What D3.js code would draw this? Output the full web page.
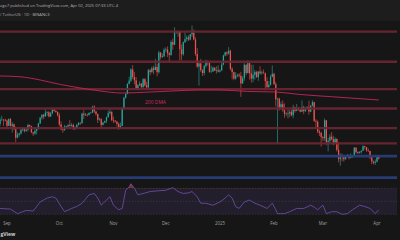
<!DOCTYPE html>
<html><head><meta charset="utf-8">
<script src="https://cdn.jsdelivr.net/npm/d3@7"></script>
<style>
html,body{margin:0;padding:0;background:#161616;overflow:hidden}
svg{display:block}
text{font-family:"Open Sans",Roboto,sans-serif}
</style>
</head><body>
<svg id="c" width="400" height="240"></svg>
<script>
// ---- Data (ETH / TetherUS, 1D) ----
const startDate = "2024-08-28";
const firstOpen = 2457;
const closes = [2528,2528,2526,2513,
2425,2538,2423,2450,2368,2225,2273,2296,2360,2388,2340,2361,2439,2418,2316,2295,2340,2372,2465,2560,2612,2581,2646,2653,2581,2633,2696,2676,2658,2602,
2447,2364,2349,2414,2414,2440,2423,2440,2370,2386,2438,2475,2468,2628,2607,2611,2605,2642,2648,2747,2667,2621,2525,2536,2440,2480,2507,2570,2637,2660,2520,
2513,2497,2457,2398,2422,2721,2895,2962,3128,3183,3371,3244,3187,3059,3107,3132,3076,3207,3105,3070,3357,3327,3392,3361,3413,3325,3656,3579,3592,3700,
3705,3641,3614,3833,3785,4004,3996,4005,3709,3626,3829,3880,3908,3872,3960,3986,3873,3630,3418,3472,3361,3311,3427,3492,3484,3330,3337,3399,3349,3358,3333,
3353,3453,3605,3657,3636,3686,3380,3326,3218,3267,3282,3265,3136,3225,3449,3311,3475,3306,3216,3280,3327,3242,3337,3306,3319,3307,3176,3076,3112,3247,3298,
3124,2870,2880,2731,2787,2686,2624,2631,2629,2659,2602,2737,2676,2727,2693,2662,2743,2670,2717,2741,2662,2763,2820,2508,2493,2330,2307,2237,
2217,2518,2150,2172,2241,2201,2140,2203,2020,1865,1923,1908,1863,1911,1936,1886,1928,1933,2058,1983,1967,1983,2007,2081,2067,2011,2002,1895,1826,1804,1822,
1906,1873];
const highs = [2560,2595,2535,2545,
2530,2550,2555,2490,2465,2410,2315,2310,2378,2395,2390,2385,2460,2445,2425,2320,2390,2375,2475,2575,2615,2620,2700,2670,2672,2660,2725,2705,2685,2665,
2640,2500,2400,2440,2425,2450,2520,2470,2460,2415,2460,2485,2485,2645,2685,2640,2630,2650,2660,2760,2770,2670,2630,2560,2555,2490,2510,2580,2680,2720,2670,
2580,2520,2500,2480,2480,2730,2915,2965,3140,3250,3395,3445,3330,3245,3125,3175,3145,3225,3225,3165,3380,3380,3420,3435,3550,3465,3685,3660,3640,3735,
3740,3760,3665,3860,3890,4080,4020,4010,4010,3790,3840,3995,3940,3945,3965,4109,4040,3910,3730,3500,3550,3375,3450,3535,3520,3490,3435,3420,3410,3425,3440,
3375,3495,3620,3670,3675,3745,3700,3410,3335,3325,3300,3310,3330,3260,3475,3455,3525,3480,3450,3450,3360,3350,3340,3425,3350,3370,3320,3240,3175,3280,3437,
3315,3160,2890,2900,2830,2850,2800,2650,2700,2690,2700,2780,2745,2790,2735,2720,2850,2760,2730,2755,2845,2775,2855,2830,2535,2515,2360,2325,
2250,2550,2520,2220,2285,2320,2260,2230,2215,2150,1960,1960,1925,1930,1950,1940,1960,1935,2070,2065,1995,2000,2010,2100,2090,2070,2045,2005,1900,1840,1860,
1920,1920];
const lows = [2420,2510,2425,2500,
2400,2420,2410,2310,2355,2150,2215,2240,2275,2330,2310,2320,2330,2405,2300,2255,2275,2280,2365,2455,2530,2535,2585,2590,2565,2575,2620,2660,2640,2580,
2420,2350,2310,2345,2400,2400,2410,2410,2355,2355,2380,2430,2440,2460,2540,2590,2580,2600,2630,2635,2640,2595,2470,2510,2395,2430,2465,2470,2560,2610,2500,
2470,2480,2410,2357,2375,2420,2700,2880,2955,3120,3160,3210,3120,3035,3020,3090,3045,3050,3080,3035,3045,3270,3310,3290,3355,3255,3300,3540,3565,3575,
3660,3580,3500,3600,3700,3780,3970,3920,3520,3530,3600,3815,3840,3850,3860,3915,3860,3600,3400,3100,3330,3260,3270,3400,3440,3315,3315,3330,3345,3300,3320,
3320,3350,3440,3590,3600,3620,3355,3205,3190,3200,3240,3235,2910,3130,3180,3270,3300,3200,3150,3155,3200,3230,3180,3280,3285,3300,3020,3060,3060,3100,3240,
3110,2750,2125,2680,2700,2660,2560,2590,2550,2570,2585,2550,2645,2670,2680,2650,2660,2620,2660,2700,2610,2655,2750,2490,2385,2300,2255,2075,
2170,2170,2100,1995,2140,2180,2100,2130,1990,1810,1754,1830,1825,1860,1900,1860,1880,1885,1925,1960,1950,1960,1960,2000,2030,1990,1985,1865,1780,1776,1770,
1810,1860];

// 200-day moving average (read at sample dates)
const dmaDates = ["2024-08-28","2024-09-08","2024-09-20","2024-10-01","2024-10-12","2024-10-24","2024-11-06","2024-11-22","2024-12-05","2024-12-20","2025-01-01","2025-01-17","2025-02-02","2025-02-15","2025-03-06","2025-04-02"];
const dmaValues = [3261,3249,3194,3122,3065,3011,2975,2992,3009,3026,3026,3001,2992,2953,2913,2858];

// RSI(14): sample day offsets from 2024-09-01 and values
const rsiDays = [-4,2,6,11,15,19,23,26,28,31,33,37,40,43,47,50,52,54,57,59,61,64,66,68,70,71,73,75,78,82,86,91,95,98,101,104,106,109,111,114,118,122,125,127,129,131,133,136,139,142,145,149,152,154,155,159,162,166,170,174,176,178,181,183,186,189,192,195,198,202,205,208,211,213];
const rsiValues = [39,38,31,36,35,49,55,57,55,42,34,39,42,47,60,62,55,44,52,57,44,37,39,67,72,77,70,60,62,65,66,67,71,65,62,63,65,57,47,47,44,49,55,60,55,42,39,49,52,47,44,39,47,37,31,31,34,39,39,44,41,37,44,31,34,34,30,31,37,44,42,39,31,37];

// Horizontal levels
const resistanceLevels = [4005,3500,3040,2715,2385,2130];
const supportLevels = [1915,1555];

// Time axis
const monthTicks = ["2024-09-01","2024-10-01","2024-11-01","2024-12-01","2025-01-01","2025-02-01","2025-03-01","2025-04-01"];
const monthLabels = ["Sep","Oct","Nov","Dec","2025","Feb","Mar","Apr"];

const headerLine1 = "ago7 published on TradingView.com, Apr 02, 2025 07:33 UTC-4";
const headerLine2 = "/ TetherUS · 1D · BINANCE";
const logoText = "gView";

// ---- Build ----
const parse = d3.utcParse("%Y-%m-%d");
const start = parse(startDate);
const candles = closes.map((c, i) => {
  const o = i === 0 ? firstOpen : closes[i - 1];
  return {date: d3.utcDay.offset(start, i), o, c,
          h: Math.max(highs[i], o, c), l: Math.min(lows[i], o, c)};
});

const svg = d3.select("#c");
const W = 400, H = 240;

const x = d3.scaleUtc().domain([parse("2024-09-01"), parse("2025-04-01")]).range([7, 377]);
const y = d3.scaleLinear().domain([1750, 4100]).range([166, 26]);
const yr = d3.scaleLinear().domain([30, 70]).range([214.3, 188.3]);

// backgrounds
svg.append("rect").attr("width", W).attr("height", H).attr("fill", "#161616");
svg.append("rect").attr("width", W).attr("height", 21).attr("fill", "#1d1d1d");

// header
svg.append("text").attr("x", 0).attr("y", 6.6).attr("font-size", 3.9).attr("fill", "#b4b4b4")
  .attr("textLength", 118).attr("lengthAdjust", "spacingAndGlyphs").text(headerLine1);
svg.append("text").attr("x", 0).attr("y", 15.8).attr("font-size", 3.9).attr("fill", "#b4b4b4")
  .attr("textLength", 50).attr("lengthAdjust", "spacingAndGlyphs").text(headerLine2);

// candles
const step = x(parse("2024-09-02")) - x(parse("2024-09-01"));
const bw = step * 0.72;
const up = "#26a69a", down = "#ef5350";
const cg = svg.append("g");
cg.selectAll("line").data(candles).join("line")
  .attr("x1", d => x(d.date)).attr("x2", d => x(d.date))
  .attr("y1", d => y(d.h)).attr("y2", d => y(d.l))
  .attr("stroke", d => d.c >= d.o ? up : down).attr("stroke-width", 0.6);
cg.selectAll("rect").data(candles).join("rect")
  .attr("x", d => x(d.date) - bw / 2).attr("width", bw)
  .attr("y", d => y(Math.max(d.o, d.c)))
  .attr("height", d => Math.max(0.6, Math.abs(y(d.o) - y(d.c))))
  .attr("fill", d => d.c >= d.o ? up : down);

// levels
svg.append("g").selectAll("line").data(resistanceLevels).join("line")
  .attr("x1", 0).attr("x2", 397).attr("y1", d => y(d)).attr("y2", d => y(d))
  .attr("stroke", "#6f2633").attr("stroke-opacity", 0.9).attr("stroke-width", 2.4);
svg.append("g").selectAll("line").data(supportLevels).join("line")
  .attr("x1", 0).attr("x2", 397).attr("y1", d => y(d)).attr("y2", d => y(d))
  .attr("stroke", "#283e7a").attr("stroke-opacity", 0.95).attr("stroke-width", 2.6);

// 200 DMA
const dma = dmaDates.map((d, i) => ({date: parse(d), v: dmaValues[i]}));
svg.append("path").datum(dma)
  .attr("d", d3.line().x(d => x(d.date)).y(d => y(d.v)).curve(d3.curveMonotoneX))
  .attr("fill", "none").attr("stroke", "#c8245a").attr("stroke-width", 0.9);
svg.append("text").attr("x", 145).attr("y", 103.6).attr("font-size", 5).attr("fill", "#d02a60")
  .attr("textLength", 21).attr("lengthAdjust", "spacingAndGlyphs").text("200 DMA");

// RSI pane
svg.append("rect").attr("x", 0).attr("y", yr(70)).attr("width", 397).attr("height", yr(30) - yr(70))
  .attr("fill", "#7e57c2").attr("fill-opacity", 0.12);
svg.append("g").selectAll("line").data([70, 50, 30]).join("line")
  .attr("x1", 0).attr("x2", 397).attr("y1", d => yr(d)).attr("y2", d => yr(d))
  .attr("stroke", "#787b86").attr("stroke-opacity", 0.45).attr("stroke-width", 0.5)
  .attr("stroke-dasharray", "1.5,1.5");
const rsi = rsiDays.map((d, i) => ({date: d3.utcDay.offset(parse("2024-09-01"), d), v: rsiValues[i]}));
const rsiLine = d3.line().x(d => x(d.date)).y(d => yr(d.v));
svg.append("clipPath").attr("id", "ob").append("rect").attr("x", 0).attr("y", 0).attr("width", W).attr("height", yr(70));
svg.append("path").datum(rsi)
  .attr("d", d3.area().x(d => x(d.date)).y0(yr(70)).y1(d => yr(d.v)))
  .attr("clip-path", "url(#ob)").attr("fill", "#ef5350").attr("fill-opacity", 0.45);
svg.append("path").datum(rsi).attr("d", rsiLine)
  .attr("fill", "none").attr("stroke", "#7e57c2").attr("stroke-width", 0.7);

// time axis
svg.append("g").selectAll("text").data(monthTicks).join("text")
  .attr("x", d => x(parse(d))).attr("y", 225.3).attr("text-anchor", "middle")
  .attr("font-size", 4.4).attr("fill", "#a0a0a0").text((d, i) => monthLabels[i]);

// logo (visible part)
svg.append("text").attr("x", 0.5).attr("y", 235.8)
  .attr("font-size", 5).attr("font-weight", "bold").attr("fill", "#d0d0d0").text(logoText);
</script>
</body></html>
